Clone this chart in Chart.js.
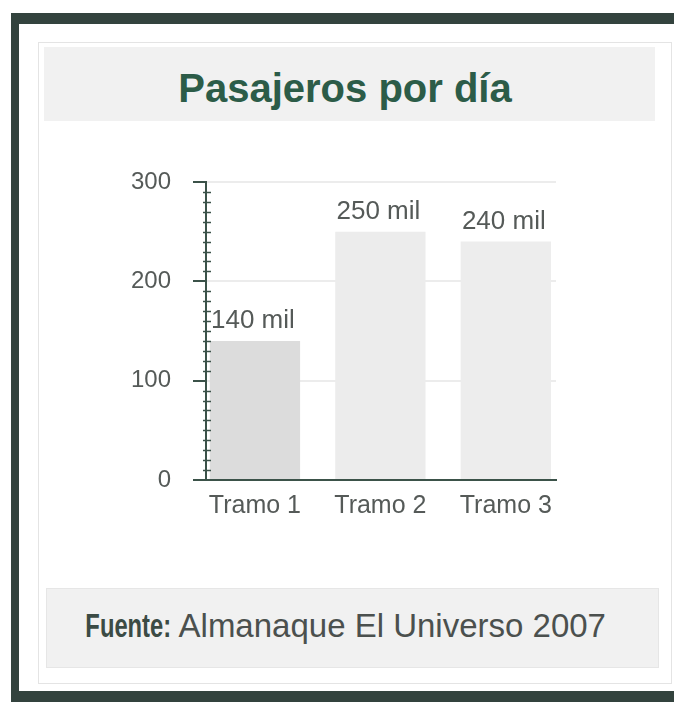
<!DOCTYPE html>
<html>
<head>
<meta charset="utf-8">
<script src="https://cdn.jsdelivr.net/npm/chart.js@4"></script>
<style>
  html, body { margin: 0; padding: 0; background: #fff; overflow: hidden; }
  body { width: 674px; height: 702px; position: relative; font-family: "Liberation Sans", Arial, sans-serif; }
  .bar-top { position: absolute; left: 11px; top: 13px; width: 663px; height: 11px; background: #33433e; }
  .bar-left { position: absolute; left: 11px; top: 13px; width: 8px; height: 689px; background: #33433e; }
  .bar-bottom { position: absolute; left: 11px; top: 691px; width: 663px; height: 11px; background: #33433e; }
  .panel { position: absolute; left: 38px; top: 42px; width: 632px; height: 640px; border: 1px solid #e4e4e4; }
  .titlebox { position: absolute; left: 44px; top: 47px; width: 611px; height: 74px; background: #f1f1f1; }
  .title { position: absolute; left: 16px; width: 658px; top: 66px; text-align: center; font-weight: bold; font-size: 40px; color: #2c5c48; }
  .footbox { position: absolute; left: 46px; top: 588px; width: 611px; height: 78px; background: #f1f1f1; border: 1px solid #e6e6e6; }
  .foot { position: absolute; left: 16px; width: 658px; top: 607px; text-align: center; font-size: 33px; color: #4b504e; white-space: nowrap; }
  .foot b { display: inline-block; color: #3b4b45; transform: scaleX(0.72); transform-origin: right center; margin-left: -32px; }
  #wrap { position: absolute; left: 0; top: 0; width: 674px; height: 702px; }
</style>
</head>
<body>
<div class="bar-top"></div>
<div class="bar-left"></div>
<div class="bar-bottom"></div>
<div class="panel"></div>
<div class="titlebox"></div>
<div class="title">Pasajeros por día</div>
<div class="footbox"></div>
<div class="foot"><b>Fuente:</b> Almanaque El Universo 2007</div>
<div id="wrap"><canvas id="chart"></canvas></div>
<script>
const categories = ['Tramo 1', 'Tramo 2', 'Tramo 3'];
const passengers = [140, 250, 240];
const valueLabels = ['140 mil', '250 mil', '240 mil'];
const yTicks = [0, 100, 200, 300];
const barColors = ['#dcdcdc', '#ececec', '#ededed'];

const axisColor = '#3b5249';
const textColor = '#555a58';
const fontFamily = '"Liberation Sans", Arial, sans-serif';

// small ticks every 10 across the y axis line
const minorTicks = {
    id: 'minorTicks',
    afterDatasetsDraw(chart) {
        const ctx = chart.ctx;
        const y = chart.scales.y;
        const x0 = chart.chartArea.left;
        ctx.save();
        ctx.strokeStyle = axisColor;
        ctx.lineWidth = 1.5;
        for (let v = 10; v < 300; v += 10) {
            if (v % 100 === 0) continue;
            const py = Math.round(y.getPixelForValue(v)) + 0.5;
            ctx.beginPath();
            ctx.moveTo(x0 - 3, py);
            ctx.lineTo(x0 + 5, py);
            ctx.stroke();
        }
        ctx.restore();
    }
};

const barLabels = {
    id: 'barLabels',
    afterDatasetsDraw(chart) {
        const ctx = chart.ctx;
        const meta = chart.getDatasetMeta(0);
        ctx.save();
        ctx.fillStyle = textColor;
        ctx.font = '26px ' + fontFamily;
        ctx.textAlign = 'center';
        ctx.textBaseline = 'alphabetic';
        meta.data.forEach((bar, i) => {
            ctx.fillText(valueLabels[i], bar.x - 2, bar.y - 13);
        });
        ctx.restore();
    }
};

new Chart(document.getElementById('chart'), {
    type: 'bar',
    data: {
        labels: categories,
        datasets: [{
            data: passengers.map((v, i) => ({ x: i, y: v })),
            backgroundColor: barColors,
            borderWidth: 0,
            barPercentage: 0.72,
            categoryPercentage: 1
        }]
    },
    options: {
        responsive: true,
        maintainAspectRatio: false,
        animation: false,
        events: [],
        layout: { padding: { left: 116, right: 118, top: 182, bottom: 178 } },
        plugins: {
            legend: { display: false },
            tooltip: { enabled: false }
        },
        scales: {
            x: {
                type: 'linear',
                min: -0.39,
                max: 2.4,
                offset: false,
                afterBuildTicks(scale) { scale.ticks = categories.map((c, i) => ({ value: i })); },
                grid: { display: false, offset: false },
                border: { display: true, color: axisColor, width: 2 },
                ticks: {
                    color: textColor,
                    font: { size: 25, family: fontFamily },
                    padding: 3,
                    autoSkip: false,
                    maxRotation: 0,
                    callback: v => categories[v]
                }
            },
            y: {
                min: 0,
                max: 300,
                afterFit(scale) { scale.width = 90; },
                border: { display: true, color: axisColor, width: 2 },
                afterBuildTicks(scale) { scale.ticks = yTicks.map(v => ({ value: v })); },
                grid: {
                    color: ctx => (ctx.tick && ctx.tick.value > 0) ? '#ececec' : 'transparent',
                    tickColor: axisColor,
                    tickLength: 13,
                    lineWidth: 2,
                    tickWidth: 2
                },
                ticks: {
                    autoSkip: false,
                    padding: 22,
                    color: textColor,
                    font: { size: 24, family: fontFamily }
                }
            }
        }
    },
    plugins: [minorTicks, barLabels]
});
</script>
</body>
</html>
